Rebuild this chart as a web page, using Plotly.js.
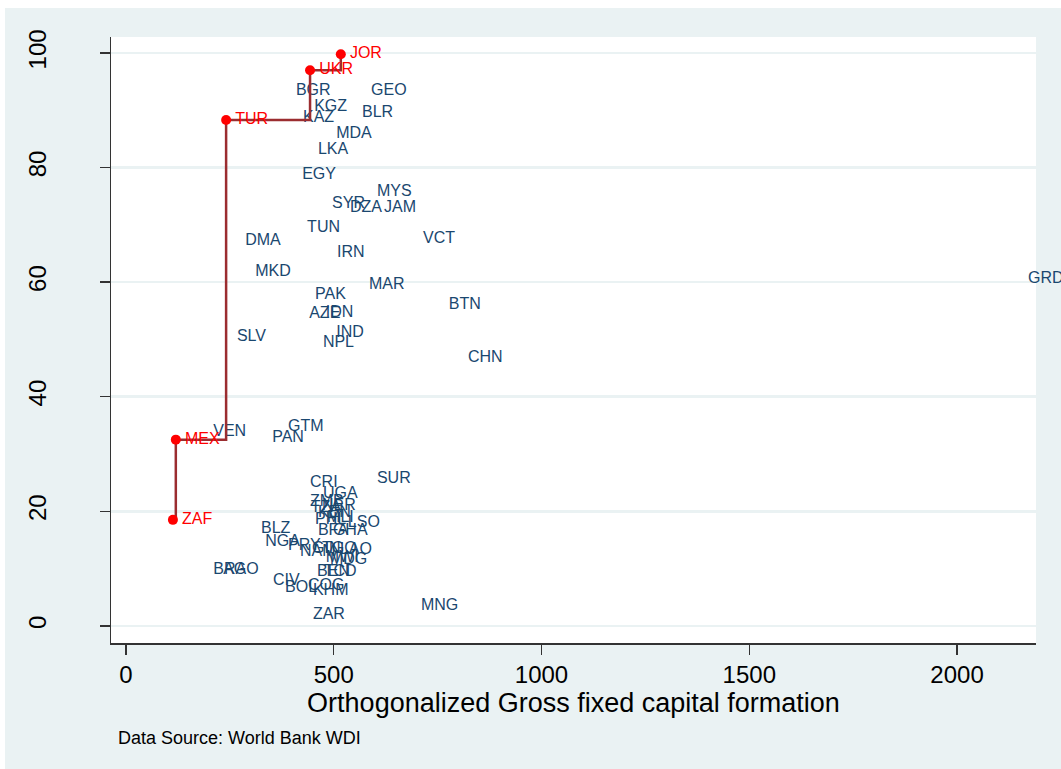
<!DOCTYPE html>
<html>
<head>
<meta charset="utf-8">
<script src="https://cdn.plot.ly/plotly-3.0.1.min.js"></script>
<style>
  html, body { margin: 0; padding: 0; background: #ffffff; }
  #wrap { position: relative; width: 1061px; height: 769px; overflow: hidden; }
  #chart { width: 1061px; height: 769px; }
  .edge { position: absolute; background: #ffffff; pointer-events: none; }
</style>
</head>
<body>
<div id="wrap">
  <div id="chart"></div>
  <div class="edge" style="left:0;top:0;width:1061px;height:8px;"></div>
  <div class="edge" style="left:0;top:0;width:5px;height:769px;"></div>
</div>
<script>
// Frontier countries (red, connected by step line)
const frontierCodes = ["ZAF", "MEX", "TUR", "UKR", "JOR"];
const frontierX = [113, 120, 241, 443, 517];
const frontierY = [18.5, 32.5, 88.3, 97.0, 99.8];

// Other countries (blue labels)
const countryCodes = [
  "BGR","GEO","KGZ","BLR","KAZ","MDA","LKA","EGY","MYS","SYR",
  "DZA","JAM","TUN","DMA","VCT","IRN","MKD","MAR","PAK","AZE",
  "IDN","IND","SLV","NPL","BTN","CHN","GRD","VEN","GTM","PAN",
  "SUR","CRI","UGA","ZMB","TZA","NER","KEN","PHL","MLI","LSO",
  "BFA","GHA","BLZ","NGA","PRY","NAM","GIN","TGO","LAO","MWI",
  "MDG","BEN","TCD","CIV","BOL","COG","KHM","ZAR","MNG","BRA",
  "AGO"
];
const countryX = [
  393, 574, 437, 552, 410, 490, 446, 408, 588, 480,
  523, 605, 420, 271, 699, 492, 295, 569, 439, 425,
  465, 490, 251, 458, 761, 807, 2155, 194, 374, 336,
  588, 427, 458, 427, 429, 456, 446, 439, 468, 518,
  446, 482, 309, 319, 374, 403, 432, 456, 499, 465,
  475, 444, 460, 338, 367, 422, 434, 434, 694, 194,
  218
];
const countryY = [
  93.4, 93.4, 90.6, 89.5, 88.7, 85.9, 83.1, 78.7, 75.7, 73.6,
  72.9, 72.9, 69.5, 67.2, 67.5, 65.1, 61.8, 59.5, 57.8, 54.5,
  54.6, 51.1, 50.4, 49.4, 56.0, 46.8, 60.6, 33.9, 34.7, 32.8,
  25.7, 25.0, 23.0, 21.6, 20.6, 20.9, 19.7, 18.5, 18.8, 18.0,
  16.6, 16.6, 16.9, 14.7, 14.0, 12.9, 13.4, 13.4, 13.3, 11.9,
  11.5, 9.4, 9.4, 7.9, 6.6, 7.0, 6.1, 1.9, 3.5, 9.8,
  9.8
];

const xTicks = [0, 500, 1000, 1500, 2000];
const yTicks = [0, 20, 40, 60, 80, 100];

const bgBlue = "#EAF2F3";
const labelFont = "Liberation Sans, Arial, Helvetica, sans-serif";

const traces = [
  {
    x: countryX, y: countryY, text: countryCodes,
    type: "scatter", mode: "markers+text",
    marker: { size: 9, color: "rgba(0,0,0,0)" },
    textposition: "middle right",
    textfont: { family: labelFont, size: 16, color: "#1a476f" },
    cliponaxis: false, hoverinfo: "skip", showlegend: false
  },
  {
    x: frontierX, y: frontierY,
    type: "scatter", mode: "lines",
    line: { shape: "hv", color: "#9B2D30", width: 2.5 },
    hoverinfo: "skip", showlegend: false
  },
  {
    x: frontierX, y: frontierY,
    type: "scatter", mode: "markers",
    marker: { size: 10, color: "#FF0000" },
    cliponaxis: false, hoverinfo: "skip", showlegend: false
  },
  {
    x: frontierX, y: frontierY, text: frontierCodes,
    type: "scatter", mode: "markers+text",
    marker: { size: 13, color: "rgba(0,0,0,0)" },
    textposition: "middle right",
    textfont: { family: labelFont, size: 16, color: "#FF0000" },
    cliponaxis: false, hoverinfo: "skip", showlegend: false
  }
];

const layout = {
  width: 1061, height: 769,
  margin: { l: 111, r: 25, t: 37, b: 126, pad: 0 },
  paper_bgcolor: bgBlue,
  plot_bgcolor: "#ffffff",
  font: { family: labelFont, color: "#000000" },
  showlegend: false,
  xaxis: {
    range: [-36, 2190],
    tickmode: "array", tickvals: xTicks, ticktext: xTicks.map(String),
    ticks: "outside", ticklen: 10, tickwidth: 1.5, tickcolor: "#333333",
    showline: true, linecolor: "#333333", linewidth: 1.5,
    showgrid: false, zeroline: false,
    tickfont: { family: labelFont, size: 24, color: "#000000" },
    title: { text: "Orthogonalized Gross fixed capital formation",
             font: { family: labelFont, size: 27, color: "#000000" }, standoff: 1 }
  },
  yaxis: {
    range: [-3, 102.8],
    tickmode: "array", tickvals: yTicks, ticktext: yTicks.map(String),
    ticks: "outside", ticklen: 10, tickwidth: 1.5, tickcolor: "#333333",
    tickangle: -90,
    showline: true, linecolor: "#333333", linewidth: 1.5,
    showgrid: true, gridcolor: bgBlue, gridwidth: 2.5, zeroline: false,
    tickfont: { family: labelFont, size: 24, color: "#000000" },
    ticklabelstandoff: 44
  },
  annotations: [
    {
      text: "Data Source: World Bank WDI",
      xref: "paper", yref: "paper",
      x: 0.0054, y: -0.1568,
      xanchor: "left", yanchor: "middle",
      showarrow: false,
      font: { family: labelFont, size: 18, color: "#000000" }
    }
  ]
};

Plotly.newPlot("chart", traces, layout, { displayModeBar: false, staticPlot: true });
</script>
</body>
</html>
